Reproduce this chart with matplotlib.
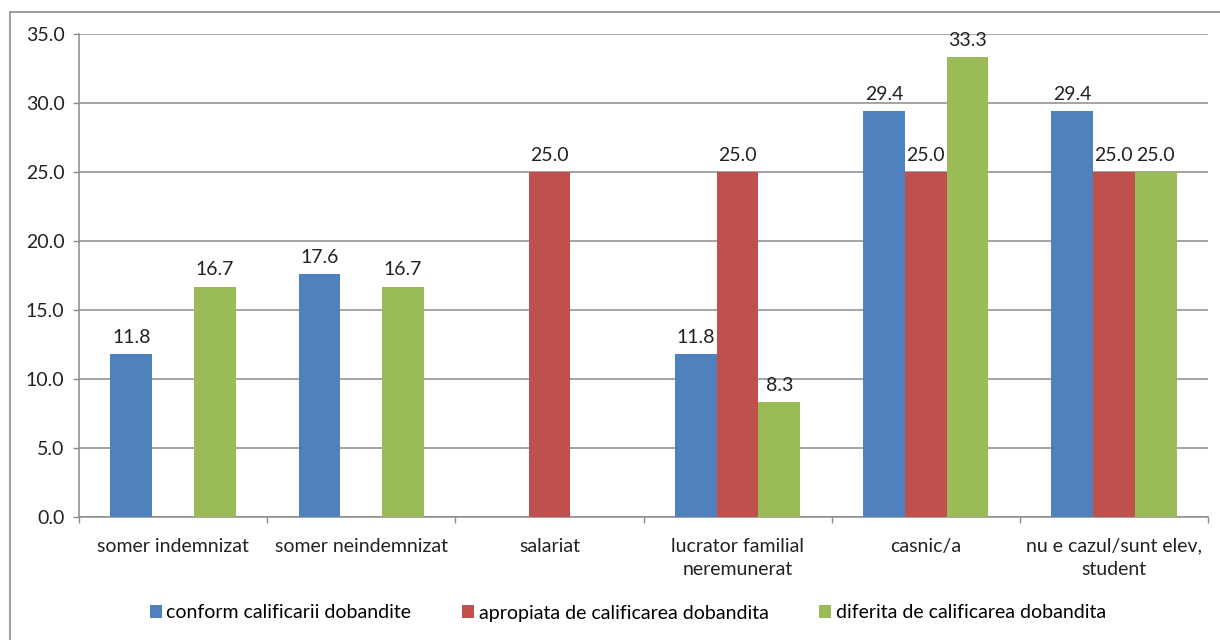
import numpy as np
import matplotlib
matplotlib.use('Agg')
import matplotlib.pyplot as plt
from matplotlib.patches import Rectangle

plt.rcParams['font.family'] = ['Lato', 'DejaVu Sans']

categories = ["somer indemnizat", "somer neindemnizat", "salariat",
              "lucrator familial\nneremunerat", "casnic/a",
              "nu e cazul/sunt elev,\nstudent"]
series_names = ["conform calificarii dobandite",
                "apropiata de calificarea dobandita",
                "diferita de calificarea dobandita"]
conform = [11.8, 17.6, np.nan, 11.8, 29.4, 29.4]
apropiata = [np.nan, np.nan, 25.0, 25.0, 25.0, 25.0]
diferita = [16.7, 16.7, np.nan, 8.3, 33.3, 25.0]
colors = ["#4F81BD", "#C0504D", "#9BBB59"]

fig = plt.figure(figsize=(12.2, 6.4), dpi=100)
ax = fig.add_axes([79 / 1220, 1 - 517 / 640, 1129 / 1220, 483 / 640])

# outer chart border
fig.patches.append(Rectangle((9.5 / 1220, -0.05), 1.1, 1 - 11.5 / 640 + 0.05,
                             transform=fig.transFigure, fill=False,
                             edgecolor="#8c8c8c", linewidth=1.2))

x = np.arange(len(categories))
width = 0.222
for i, (vals, name) in enumerate(zip([conform, apropiata, diferita], series_names)):
    pos = x + (i - 1) * width
    bars = ax.bar(pos, vals, width, color=colors[i], label=name, zorder=3)
    for xp, v in zip(pos, vals):
        if not np.isnan(v):
            ax.annotate("%.1f" % v, (xp, v), xytext=(0, 6), textcoords="offset points",
                        ha="center", va="bottom", fontsize=14, color="#222222")

ax.set_ylim(0, 35)
ax.set_xlim(-0.5, len(categories) - 0.5)
ax.set_yticks(np.arange(0, 36, 5))
ax.set_yticklabels(["%.1f" % t for t in np.arange(0, 36, 5)])
ax.yaxis.grid(True, color="#8c8c8c", linewidth=1.1, zorder=0)
ax.set_axisbelow(True)

ax.set_xticks(x)
ax.set_xticklabels(categories, linespacing=1.45)
ax.set_xticks(np.arange(-0.5, len(categories)), minor=True)
ax.tick_params(axis="x", which="major", length=0, pad=15, labelsize=14, labelcolor="#222222")
ax.tick_params(axis="x", which="minor", length=4, width=1, color="#8c8c8c", direction="out")
ax.tick_params(axis="y", length=4.5, width=1, color="#8c8c8c", pad=6, labelsize=14, labelcolor="#222222")

for s in ["top", "right"]:
    ax.spines[s].set_visible(False)
for s in ["left", "bottom"]:
    ax.spines[s].set_color("#8c8c8c")
    ax.spines[s].set_linewidth(1.1)

fig.legend(loc="center", bbox_to_anchor=(628 / 1220, 1 - 613 / 640), ncol=3,
           frameon=False, fontsize=14, handlelength=0.62, handleheight=0.62,
           handletextpad=0.25, columnspacing=2.6)

fig.savefig("out.png", dpi=100)
